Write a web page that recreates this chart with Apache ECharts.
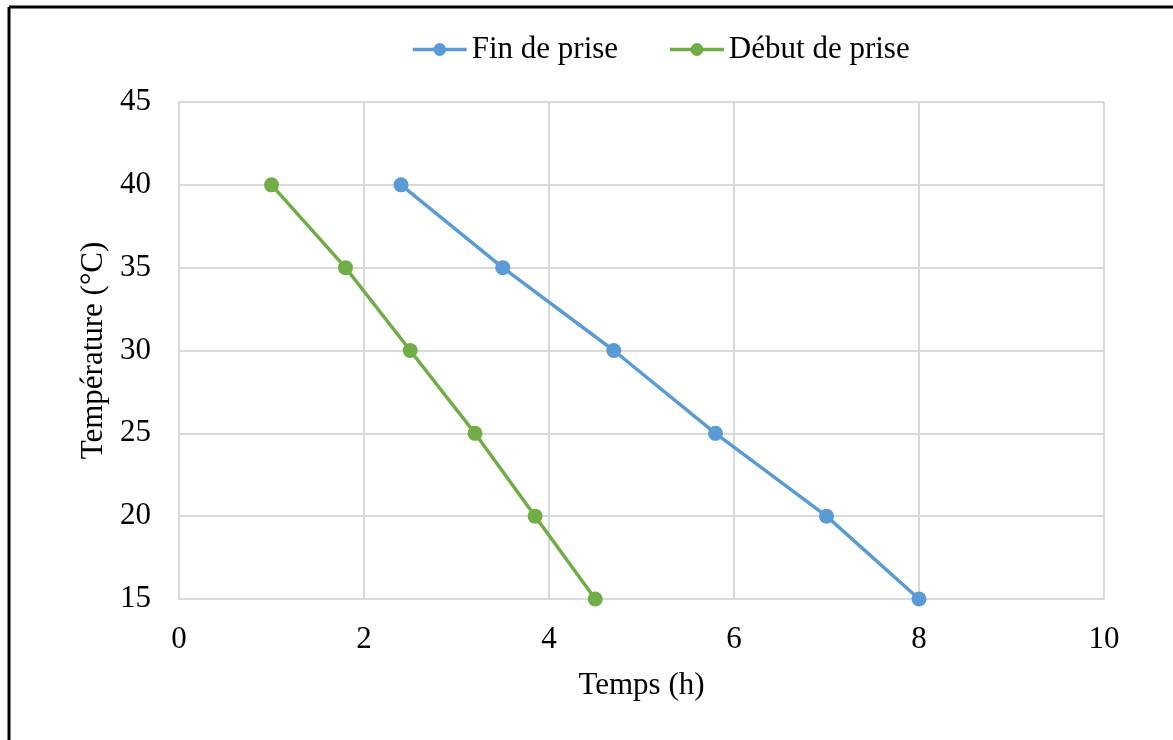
<!DOCTYPE html>
<html>
<head>
<meta charset="utf-8">
<script src="https://cdn.jsdelivr.net/npm/echarts@6/dist/echarts.min.js"></script>
<style>
html,body{margin:0;padding:0;background:#fff;}
#c{width:1173px;height:740px;}
</style>
</head>
<body>
<div id="c"></div>
<script>
const seriesNames = ['Fin de prise', 'Début de prise'];
const finTemps = [2.4, 3.5, 4.7, 5.8, 7.0, 8.0];
const finTemp = [40, 35, 30, 25, 20, 15];
const debutTemps = [1.0, 1.8, 2.5, 3.2, 3.85, 4.5];
const debutTemp = [40, 35, 30, 25, 20, 15];
const xTicks = [0, 2, 4, 6, 8, 10];
const yTicks = [15, 20, 25, 30, 35, 40, 45];

const font = 'Liberation Serif, Times New Roman, serif';
const fs = 31;
const chart = echarts.init(document.getElementById('c'), null, {renderer: 'canvas'});
const pair = (xs, ys) => xs.map((x, i) => [x, ys[i]]);

chart.setOption({
  animation: false,
  backgroundColor: '#fff',
  textStyle: {fontFamily: font},
  legend: {
    top: 29,
    left: 406,
    itemWidth: 54,
    itemHeight: 16,
    itemGap: 50,
    lineStyle: {width: 3.5},
    textStyle: {fontFamily: font, fontSize: fs, color: '#000'},
    data: seriesNames
  },
  grid: {left: 179, right: 69, top: 102, bottom: 141, containLabel: false},
  xAxis: {
    type: 'value',
    min: xTicks[0], max: xTicks[xTicks.length - 1], interval: 2,
    name: 'Temps (h)', nameLocation: 'middle', nameGap: 71,
    nameTextStyle: {fontFamily: font, fontSize: fs, color: '#000'},
    axisLine: {show: true, lineStyle: {color: '#d9d9d9', width: 2}},
    axisTick: {show: false},
    axisLabel: {fontFamily: font, fontSize: fs, color: '#000', margin: 25},
    splitLine: {show: true, lineStyle: {color: '#d9d9d9', width: 2}}
  },
  yAxis: {
    type: 'value',
    min: yTicks[0], max: yTicks[yTicks.length - 1], interval: 5,
    name: 'Température (°C)', nameLocation: 'middle', nameGap: 68, nameRotate: 90,
    nameTextStyle: {fontFamily: font, fontSize: fs, color: '#000'},
    axisLine: {show: true, lineStyle: {color: '#d9d9d9', width: 2}},
    axisTick: {show: false},
    axisLabel: {fontFamily: font, fontSize: fs, color: '#000', margin: 28},
    splitLine: {show: true, lineStyle: {color: '#d9d9d9', width: 2}}
  },
  series: [
    {
      name: seriesNames[0], type: 'line', data: pair(finTemps, finTemp),
      symbol: 'circle', symbolSize: 15,
      itemStyle: {color: '#5b9bd5'}, lineStyle: {color: '#5b9bd5', width: 3.5}
    },
    {
      name: seriesNames[1], type: 'line', data: pair(debutTemps, debutTemp),
      symbol: 'circle', symbolSize: 15,
      itemStyle: {color: '#70ad47'}, lineStyle: {color: '#70ad47', width: 3.5}
    }
  ],
  graphic: [
    {type: 'line', shape: {x1: 9, y1: 7, x2: 1173, y2: 7}, style: {stroke: '#000', lineWidth: 3}},
    {type: 'line', shape: {x1: 9, y1: 7, x2: 9, y2: 740}, style: {stroke: '#000', lineWidth: 3}}
  ]
});
</script>
</body>
</html>
